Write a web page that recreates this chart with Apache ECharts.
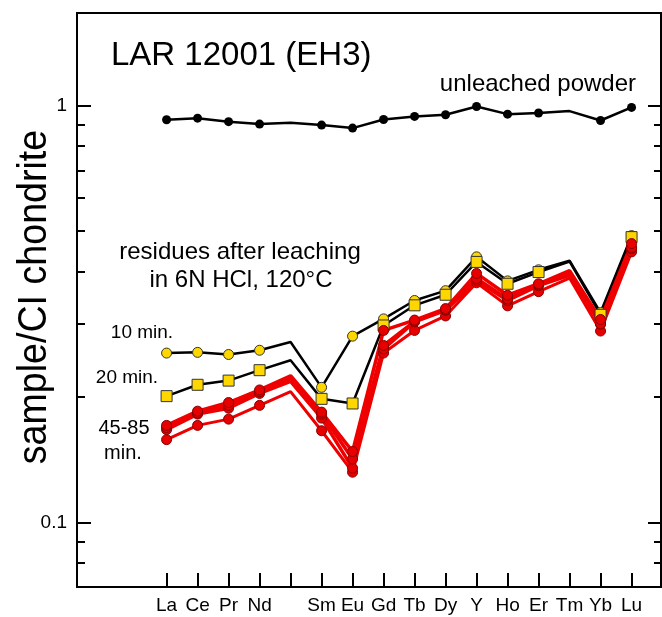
<!DOCTYPE html>
<html>
<head>
<meta charset="utf-8">
<script src="https://cdn.jsdelivr.net/npm/echarts@6/dist/echarts.min.js"></script>
<style>
html,body{margin:0;padding:0;background:#fff;}
#chart{width:662px;height:617px;}
</style>
</head>
<body>
<div id="chart"></div>
<script>
// ---- data ----
const elements = ['La','Ce','Pr','Nd','Pm','Sm','Eu','Gd','Tb','Dy','Y','Ho','Er','Tm','Yb','Lu'];
const noMarker = ['Pm','Tm'];          // line vertices drawn without a symbol
const noTickLabel = ['Pm'];            // tick shown but not labelled
const yMajorTicks = [0.1, 1];
const yMinorTicks = [0.07,0.08,0.09,0.2,0.3,0.4,0.5,0.6,0.7,0.8,0.9];

const unleached = [0.926,0.934,0.916,0.904,0.910,0.899,0.884,0.927,0.943,0.952,0.996,0.955,0.961,0.971,0.922,0.991];
const min10     = [0.255,0.256,0.253,0.259,0.271,0.211,0.280,0.308,0.341,0.360,0.434,0.380,0.404,0.425,0.319,0.488];
const min20     = [0.201,0.214,0.219,0.232,0.245,0.198,0.193,0.297,0.332,0.352,0.422,0.374,0.399,0.423,0.315,0.484];
const red1      = [0.171,0.185,0.194,0.208,0.225,0.184,0.148,0.289,0.306,0.326,0.396,0.351,0.374,0.402,0.307,0.467];
const red2      = [0.169,0.183,0.191,0.206,0.222,0.182,0.142,0.266,0.304,0.324,0.385,0.344,0.372,0.396,0.300,0.457];
const red3      = [0.167,0.182,0.188,0.204,0.218,0.178,0.135,0.261,0.303,0.323,0.381,0.341,0.370,0.392,0.299,0.454];
const red4      = [0.158,0.171,0.177,0.191,0.206,0.166,0.132,0.255,0.289,0.313,0.376,0.331,0.358,0.386,0.288,0.446];

// ---- build ----
function toData(vals){
  return vals.map((v,i)=> noMarker.indexOf(elements[i])>=0 ? {value:[i,v], symbol:'none'} : [i,v]);
}
const idx = elements.map((e,i)=>i);
const labelIdx = idx.filter(i=>noTickLabel.indexOf(elements[i])<0);

const FONT = 'Liberation Sans, Arial, sans-serif';
const YMIN = 0.07, YMAX = 1.67;

function yAx(pos, ticks, len, showLabel){
  return {
    type:'log', logBase:10, min:YMIN, max:YMAX, position:pos,
    axisLine:{show:false, onZero:false},
    splitLine:{show:false},
    axisTick:{show:true, inside:true, length:len, customValues:ticks, lineStyle:{color:'#000', width:2}},
    axisLabel:{show:showLabel, customValues:ticks, margin:10, color:'#000', fontSize:19, fontFamily:FONT,
      formatter:(v)=> String(+v.toPrecision(3))}
  };
}

function redSeries(vals, w){
  return {
    type:'line', data:toData(vals), symbol:'circle', symbolSize:10,
    lineStyle:{color:'#ee0000', width:w},
    itemStyle:{color:'#e60000', borderColor:'#8a0000', borderWidth:1},
    z:3
  };
}

const option = {
  animation:false,
  backgroundColor:'#fff',
  grid:{left:77, right:1, top:13, bottom:30, show:true, borderColor:'#000', borderWidth:2, backgroundColor:'transparent'},
  xAxis:{
    type:'value', min:-2.89, max:15.95,
    axisLine:{show:false, onZero:false}, splitLine:{show:false},
    axisTick:{show:true, inside:true, length:14, customValues:idx, lineStyle:{color:'#000', width:2}},
    axisLabel:{customValues:labelIdx, margin:9, color:'#000', fontSize:19, fontFamily:FONT,
      formatter:(v)=>elements[Math.round(v)]}
  },
  yAxis:[
    yAx('left', yMajorTicks, 14, true),
    yAx('left', yMinorTicks, 8, false),
    yAx('right', yMajorTicks, 13, false),
    yAx('right', yMinorTicks, 7, false)
  ],
  series:[
    {type:'line', data:toData(min10), symbol:'circle', symbolSize:10,
     lineStyle:{color:'#000', width:2.5}, itemStyle:{color:'#ffd700', borderColor:'#333', borderWidth:1}},
    {type:'line', data:toData(min20), symbol:'rect', symbolSize:11,
     lineStyle:{color:'#000', width:2.5}, itemStyle:{color:'#ffd700', borderColor:'#333', borderWidth:1}},
    redSeries(red4, 3),
    redSeries(red3, 3.5),
    redSeries(red2, 3.5),
    redSeries(red1, 3.5),
    {type:'line', data:toData(unleached), symbol:'circle', symbolSize:9,
     lineStyle:{color:'#000', width:2.5}, itemStyle:{color:'#000'}}
  ],
  graphic:[
    {type:'text', x:111, y:56, style:{text:'LAR 12001 (EH3)', font:'33px '+FONT, fill:'#000', align:'left', verticalAlign:'middle'}},
    {type:'text', x:636, y:84, style:{text:'unleached powder', font:'24px '+FONT, fill:'#000', align:'right', verticalAlign:'middle'}},
    {type:'text', x:240, y:252, style:{text:'residues after leaching', font:'24px '+FONT, fill:'#000', align:'center', verticalAlign:'middle'}},
    {type:'text', x:241, y:280, style:{text:'in 6N HCl, 120°C', font:'24px '+FONT, fill:'#000', align:'center', verticalAlign:'middle'}},
    {type:'text', x:142, y:333, style:{text:'10 min.', font:'19px '+FONT, fill:'#000', align:'center', verticalAlign:'middle'}},
    {type:'text', x:127, y:378, style:{text:'20 min.', font:'19px '+FONT, fill:'#000', align:'center', verticalAlign:'middle'}},
    {type:'text', x:124, y:428, style:{text:'45-85', font:'20px '+FONT, fill:'#000', align:'center', verticalAlign:'middle'}},
    {type:'text', x:123, y:453, style:{text:'min.', font:'20px '+FONT, fill:'#000', align:'center', verticalAlign:'middle'}},
    {type:'text', x:35, y:297, rotation:Math.PI/2, scaleX:0.94, style:{text:'sample/CI chondrite', font:'40px '+FONT, fill:'#000', align:'center', verticalAlign:'middle'}}
  ]
};

const chart = echarts.init(document.getElementById('chart'), null, {renderer:'canvas'});
chart.setOption(option);
</script>
</body>
</html>
